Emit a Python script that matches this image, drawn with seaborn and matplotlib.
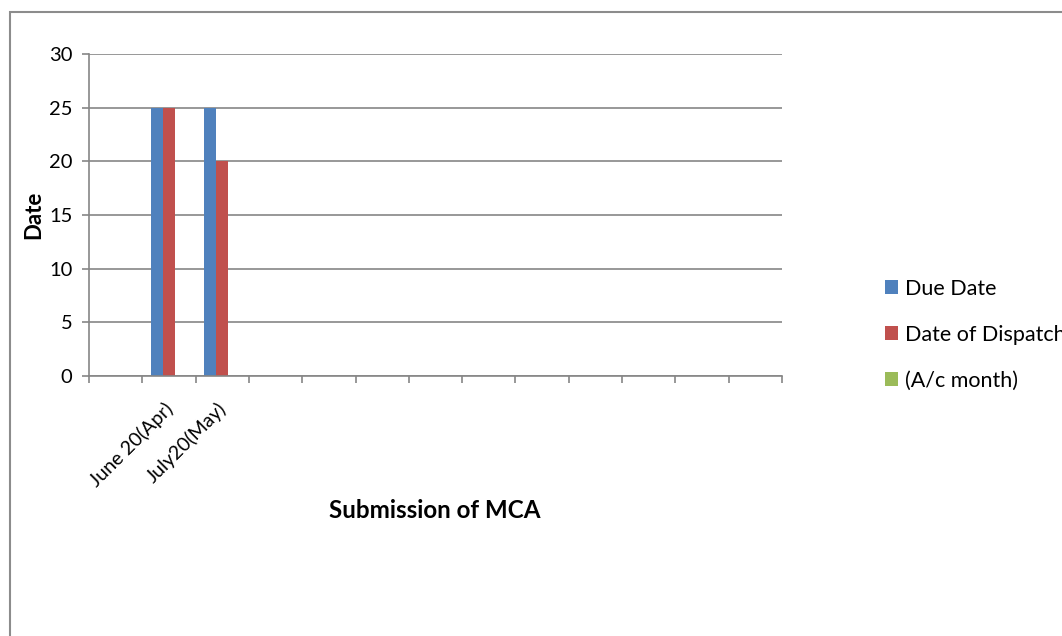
import numpy as np
import pandas as pd
import matplotlib
matplotlib.use("Agg")
import matplotlib.pyplot as plt
import matplotlib.transforms as mtransforms
from matplotlib.patches import Rectangle
import seaborn as sns

# ---- data ----
slot_labels = ['', 'June 20(Apr)', 'July20(May)'] + [''] * 10
categories = ['June 20(Apr)', 'July20(May)']
series = ['Due Date', 'Date of Dispatch', '(A/c month)']
due_date = [25, 25]
date_of_dispatch = [25, 20]
ac_month = [0, 0]
colors = ['#4F81BD', '#C0504D', '#9BBB59']
y_ticks = [0, 5, 10, 15, 20, 25, 30]

sns.set_theme(style="white")
plt.rcParams['font.family'] = ['Lato', 'DejaVu Sans']
plt.rcParams['text.color'] = 'black'

rows = []
for vals, name in zip([due_date, date_of_dispatch, ac_month], series):
    for c, v in zip(categories, vals):
        rows.append({'cat': c, 'series': name, 'value': v})
df = pd.DataFrame(rows)

order = [lab if lab else f'_blank{i}' for i, lab in enumerate(slot_labels)]

fig = plt.figure(figsize=(10.62, 6.36), dpi=100)
ax = fig.add_axes([89/1062, 1-376/636, (782-89)/1062, (376-54)/636])

sns.barplot(data=df, x='cat', y='value', hue='series', order=order,
            hue_order=series, palette=colors, width=0.675, ax=ax,
            saturation=1, linewidth=0, errorbar=None)

gridc = '#868686'
ax.set_ylim(0, 30)
ax.set_yticks(y_ticks)
ax.yaxis.grid(True, color=gridc, linewidth=1.2)
ax.set_axisbelow(True)
n = len(slot_labels)
ax.set_xlim(-0.5, n - 0.5)
ax.set_xticks(np.arange(-0.5, n, 1))
ax.set_xticklabels([''] * (n + 1))
ax.set_xticks(np.arange(n), minor=True)
ax.set_xticklabels(slot_labels, minor=True, rotation=45, ha='right',
                   rotation_mode='anchor', fontsize=14, color='black')
ax.tick_params(axis='x', which='minor', bottom=True, length=0, pad=17)
ax.tick_params(axis='x', which='major', bottom=True, length=5, width=1.2,
               color=gridc, direction='out')
ax.tick_params(axis='y', left=True, length=5, width=1.2, color=gridc,
               direction='out', labelsize=14.5, labelcolor='black', pad=7)
shift = mtransforms.ScaledTranslation(-5/100, 0, fig.dpi_scale_trans)
for lab in ax.get_xticklabels(minor=True):
    lab.set_transform(lab.get_transform() + shift)
for s in ['top', 'right']:
    ax.spines[s].set_visible(False)
for s in ['left', 'bottom']:
    ax.spines[s].set_color(gridc)
    ax.spines[s].set_linewidth(1.2)

ax.set_ylabel('Date', fontsize=16, fontweight='bold', labelpad=3, color='black')
ax.set_xlabel('')
fig.text(435/1062, 1-511/636, 'Submission of MCA', fontsize=17.4,
         fontweight='bold', ha='center', va='center', color='black')

handles, labels = ax.get_legend_handles_labels()
if ax.get_legend() is not None:
    ax.get_legend().remove()
fig.legend(handles, labels, loc='upper left', bbox_to_anchor=(876/1062, 1-270/636),
           frameon=False, fontsize=15.5, handlelength=0.6, handleheight=0.6,
           handletextpad=0.35, labelspacing=1.21, borderaxespad=0,
           labelcolor='black')

fig.patches.append(Rectangle((10/1062, -0.2), 2, 1.2 - 12/636, transform=fig.transFigure,
                             fill=False, edgecolor='#8c8c8c', linewidth=1.5))

fig.savefig('out.png', dpi=100)
